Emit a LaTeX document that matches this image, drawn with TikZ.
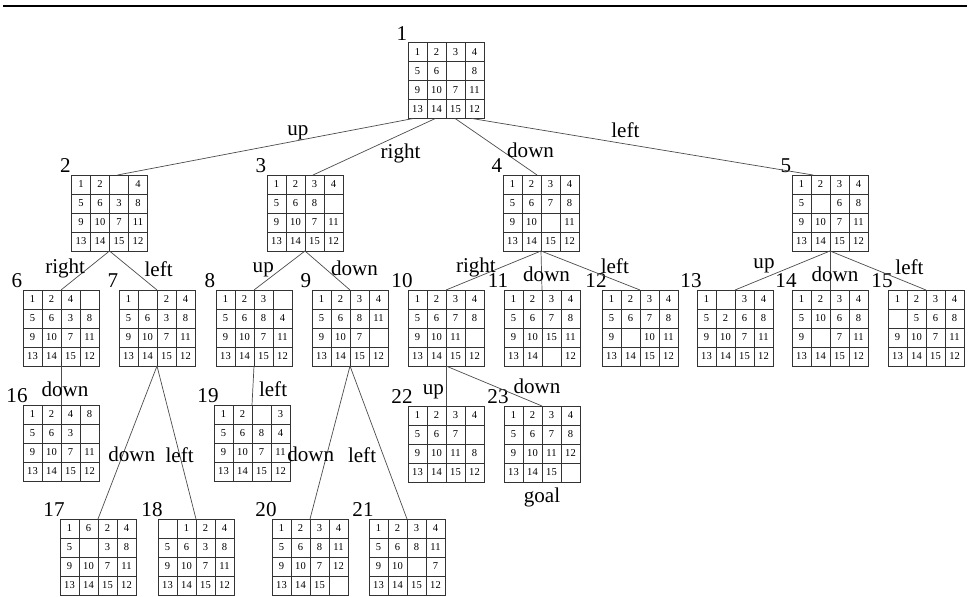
\documentclass[tikz,border=0pt]{standalone}
\usepackage{fontspec}
\setmainfont{Liberation Serif}
\usetikzlibrary{calc,positioning}

\newcommand{\lblfont}{\fontsize{12}{14}\selectfont}
\newcommand{\tilefont}{\fontsize{6}{7}\selectfont}

\tikzset{
    board/.style={draw=black!80, line width=0.4pt, minimum width=1.52cm, minimum height=1.52cm, inner sep=0pt, outer sep=0pt},
    cellline/.style={draw=black!80, line width=0.35pt},
    tile/.style={font=\tilefont, inner sep=0pt},
    numlabel/.style={font=\lblfont, anchor=south, xshift=-0.12cm, inner sep=1pt},
    branch/.style={draw=black!70, line width=0.4pt},
    act/.style={font=\lblfont}
}

% Tabuleiro 4x4: nome, posição, número, peças
\newcommand{\puzzle}[4]{%
    \node[board] (#1) at (#2) {};
    \node[numlabel] (#1-num) at (#1.north west) {#3};
    \foreach \k in {1,2,3} {
        \draw[cellline] ($(#1.north west)+(\k*19,0)$) -- ($(#1.south west)+(\k*19,0)$);
        \draw[cellline] ($(#1.north west)+(0,\k*19)$) -- ($(#1.north east)+(0,\k*19)$);
    }
    \foreach \tnum [count=\i from 0] in {#4} {
        \pgfmathtruncatemacro{\prow}{\i/4}
        \pgfmathtruncatemacro{\pcol}{mod(\i,4)}
        \ifx\tnum\empty\else
            \node[tile] (#1-\i) at ($(#1.north west)+(\pcol*19+9.5,\prow*19+9.5)$) {\tnum};
        \fi
    }
}

\begin{document}
\begin{tikzpicture}[x=0.02cm, y=-0.02cm]
    \useasboundingbox (0,0) rectangle (970,597);

    % Filete do topo
    \draw[line width=1.1pt] (3,6) -- (967,6);

    % Raiz
    \puzzle{n1}{446,80.5}{1}{1,2,3,4,5,6,,8,9,10,7,11,13,14,15,12}

    % Segundo nível
    \puzzle{n2}{109.5,213}{2}{1,2,,4,5,6,3,8,9,10,7,11,13,14,15,12}
    \puzzle{n3}{305,213}{3}{1,2,3,4,5,6,8,,9,10,7,11,13,14,15,12}
    \puzzle{n4}{541,213}{4}{1,2,3,4,5,6,7,8,9,10,,11,13,14,15,12}
    \puzzle{n5}{830,213}{5}{1,2,3,4,5,,6,8,9,10,7,11,13,14,15,12}

    % Terceiro nível
    \puzzle{n6}{61,328}{6}{1,2,4,,5,6,3,8,9,10,7,11,13,14,15,12}
    \puzzle{n7}{157,328}{7}{1,,2,4,5,6,3,8,9,10,7,11,13,14,15,12}
    \puzzle{n8}{254,328}{8}{1,2,3,,5,6,8,4,9,10,7,11,13,14,15,12}
    \puzzle{n9}{350,328}{9}{1,2,3,4,5,6,8,11,9,10,7,,13,14,15,12}
    \puzzle{n10}{446,328}{10}{1,2,3,4,5,6,7,8,9,10,11,,13,14,15,12}
    \puzzle{n11}{542,328}{11}{1,2,3,4,5,6,7,8,9,10,15,11,13,14,,12}
    \puzzle{n12}{640,328}{12}{1,2,3,4,5,6,7,8,9,,10,11,13,14,15,12}
    \puzzle{n13}{735,328}{13}{1,,3,4,5,2,6,8,9,10,7,11,13,14,15,12}
    \puzzle{n14}{830,328}{14}{1,2,3,4,5,10,6,8,9,,7,11,13,14,15,12}
    \puzzle{n15}{926,328}{15}{1,2,3,4,,5,6,8,9,10,7,11,13,14,15,12}

    % Quarto nível
    \puzzle{n16}{61,443}{16}{1,2,4,8,5,6,3,,9,10,7,11,13,14,15,12}
    \puzzle{n19}{252,443}{19}{1,2,,3,5,6,8,4,9,10,7,11,13,14,15,12}
    \puzzle{n22}{446,444}{22}{1,2,3,4,5,6,7,,9,10,11,8,13,14,15,12}
    \puzzle{n23}{542,444}{23}{1,2,3,4,5,6,7,8,9,10,11,12,13,14,15,}
    \node[act, below=0pt of n23] (goal) {goal};

    % Quinto nível
    \puzzle{n17}{98,557}{17}{1,6,2,4,5,,3,8,9,10,7,11,13,14,15,12}
    \puzzle{n18}{196,557}{18}{,1,2,4,5,6,3,8,9,10,7,11,13,14,15,12}
    \puzzle{n20}{310,557}{20}{1,2,3,4,5,6,8,11,9,10,7,12,13,14,15,}
    \puzzle{n21}{407,557}{21}{1,2,3,4,5,6,8,11,9,10,,7,13,14,15,12}

    % Ligações da raiz
    \draw[branch] ($(n1.south west)!0.07!(n1.south east)$) -- node[act, pos=.39, above, inner sep=0pt] (m2) {up} ($(n2.north)+(8,0)$);
    \draw[branch] ($(n1.south west)!0.36!(n1.south east)$) -- node[act, pos=.45, anchor=north west, inner sep=0pt] (m3) {right} ($(n3.north)+(8,0)$);
    \draw[branch] ($(n1.south west)!0.62!(n1.south east)$) -- node[act, pos=.56, right] (m4) {down} ($(n4.north)+(-4,0)$);
    \draw[branch] ($(n1.south west)!0.84!(n1.south east)$) -- node[act, pos=.45, above] (m5) {left} ($(n5.north)+(-17,0)$);

    % Ligações do segundo nível
    \draw[branch] (n2.south) -- node[act, pos=.46, left, inner sep=1pt] (m6) {right} (n6.north);
    \draw[branch] (n2.south) -- node[act, pos=.46, right=4pt] (m7) {left} (n7.north);
    \draw[branch] (n3.south) -- node[act, pos=.49, left] (m8) {up} (n8.north);
    \draw[branch] (n3.south) -- node[act, pos=.44, right] (m9) {down} (n9.north);
    \draw[branch] (n4.south) -- node[act, pos=.41, left] (m10) {right} (n10.north);
    \draw[branch] (n4.south) -- node[act, pos=.6, xshift=0.1cm] (m11) {down} (n11.north);
    \draw[branch] (n4.south) -- node[act, pos=.6, above right, inner sep=0pt] (m12) {left} (n12.north);
    \draw[branch] (n5.south) -- node[act, pos=.58, above left, inner sep=0pt] (m13) {up} (n13.north);
    \draw[branch] (n5.south) -- node[act, pos=.6, xshift=0.1cm] (m14) {down} (n14.north);
    \draw[branch] (n5.south) -- node[act, pos=.66, above right, inner sep=1pt] (m15) {left} (n15.north);

    % Ligações do terceiro nível
    \draw[branch] (n6.south) -- node[act, pos=.6, xshift=0.08cm] (m16) {down} (n16.north);
    \draw[branch] (n8.south) -- node[act, pos=.6, right] (m19) {left} (n19.north);
    \draw[branch] (n10.south) -- node[act, pos=.65, left, inner sep=1pt] (m22) {up} (n22.north);
    \draw[branch] (n10.south) -- node[act, pos=.7, above right, inner sep=0pt] (m23) {down} (n23.north);
    \draw[branch] (n7.south) -- node[act, pos=.58, xshift=0.18cm] (m17) {down} (n17.north);
    \draw[branch] (n7.south) -- node[act, pos=.58] (m18) {left} (n18.north);
    \draw[branch] (n9.south) -- node[act, pos=.58, xshift=-0.32cm] (m20) {down} (n20.north);
    \draw[branch] (n9.south) -- node[act, pos=.58, xshift=-0.42cm] (m21) {left} (n21.north);

\end{tikzpicture}
\end{document}
